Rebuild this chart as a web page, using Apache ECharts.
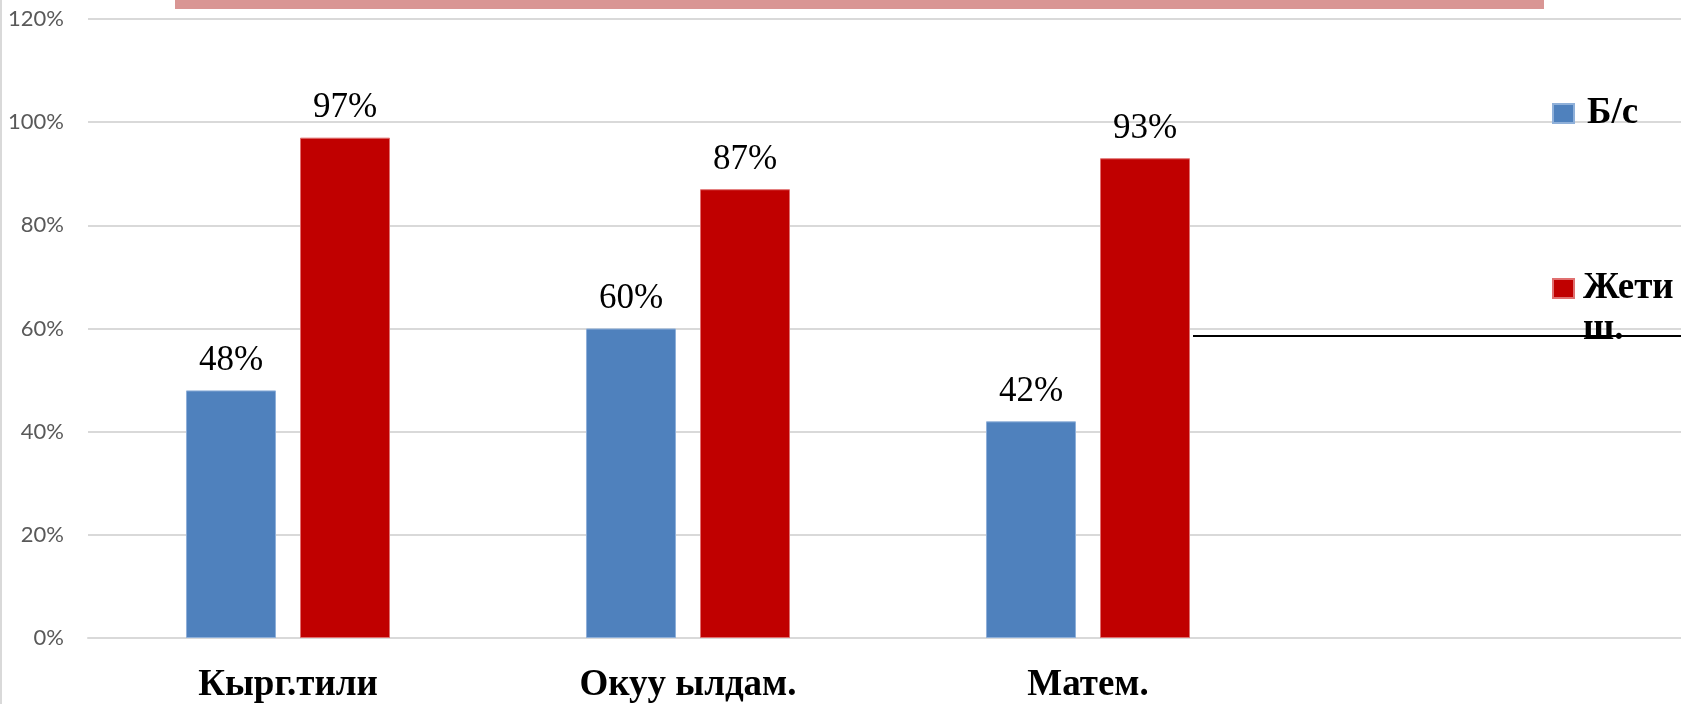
<!DOCTYPE html>
<html>
<head>
<meta charset="utf-8">
<script src="https://cdn.jsdelivr.net/npm/echarts@6/dist/echarts.min.js"></script>
<style>
  html, body { margin: 0; padding: 0; background: #ffffff; }
  #chart { width: 1681px; height: 704px; }
</style>
</head>
<body>
<div id="chart"></div>
<script>
// Subjects on the category axis (the last slot is an empty column)
const categories = ['Кырг.тили', 'Окуу ылдам.', 'Матем.', ''];
// Series names
const seriesNames = ['Б/с', 'Жети ш.'];
// Percent values per subject
const bsValues = [48, 60, 42, null];
const zhetValues = [97, 87, 93, null];
// Value axis range (percent)
const yMin = 0, yMax = 120, yStep = 20;

const serif = '"Liberation Serif", "Times New Roman", serif';
const chart = echarts.init(document.getElementById('chart'), null, { renderer: 'canvas' });

const labelCfg = {
  show: true,
  position: 'top',
  distance: 12,
  fontFamily: serif,
  fontSize: 35,
  color: '#000',
  formatter: p => p.value + '%'
};

const legendText = {
  fontFamily: serif, fontWeight: 'bold', fontSize: 37, color: '#000', lineHeight: 41
};

chart.setOption({
  animation: false,
  backgroundColor: '#ffffff',
  // the plot area runs slightly past the right edge of the canvas
  grid: { left: 88, width: 1600, top: 19, bottom: 66, containLabel: false, outerBoundsMode: 'none' },
  xAxis: {
    type: 'category',
    data: categories,
    axisLine: { show: true, lineStyle: { color: '#d9d9d9', width: 2 } },
    axisTick: { show: false },
    axisLabel: {
      fontFamily: serif, fontWeight: 'bold', fontSize: 37, color: '#000', margin: 29
    },
    splitLine: { show: false }
  },
  yAxis: {
    type: 'value',
    min: yMin, max: yMax, interval: yStep,
    axisLine: { show: false },
    axisTick: { show: false },
    axisLabel: {
      formatter: '{value}%', fontFamily: 'Lato, "Open Sans", sans-serif',
      fontSize: 22, color: '#595959', margin: 24
    },
    splitLine: { lineStyle: { color: '#d9d9d9', width: 2 } }
  },
  legend: [
    {
      data: [seriesNames[0]],
      orient: 'vertical', left: 1552, top: 93, padding: 0,
      itemWidth: 21, itemHeight: 19, icon: 'rect',
      selectedMode: false,
      textStyle: Object.assign({ padding: [0, 0, 0, 8] }, legendText)
    },
    {
      data: [seriesNames[1]],
      orient: 'vertical', left: 1552, top: 227, padding: 0,
      itemWidth: 21, itemHeight: 19, icon: 'rect',
      selectedMode: false,
      // wrap the name onto two lines, first line level with the swatch
      formatter: name => '\n' + name.replace(' ', '\n'),
      textStyle: Object.assign({ padding: [0, 0, 0, 4] }, legendText)
    }
  ],
  series: [
    {
      name: seriesNames[0], type: 'bar', data: bsValues,
      barWidth: 90, barGap: '26.7%',
      itemStyle: { color: '#4f81bd', borderColor: '#8fb0d9', borderWidth: 1 },
      label: labelCfg
    },
    {
      name: seriesNames[1], type: 'bar', data: zhetValues,
      barWidth: 90, barGap: '26.7%',
      itemStyle: { color: '#c00000', borderColor: '#e07070', borderWidth: 1 },
      label: labelCfg
    }
  ],
  graphic: [
    // frame edge on the left
    { type: 'rect', shape: { x: 0, y: 0, width: 2, height: 704 },
      style: { fill: '#d9d9d9' }, silent: true },
    // pink band along the top edge
    { type: 'rect', shape: { x: 175, y: 0, width: 1369, height: 9 },
      style: { fill: '#d99694' }, silent: true },
    // black rule across the legend
    { type: 'line', shape: { x1: 1193, y1: 336, x2: 1681, y2: 336 },
      style: { stroke: '#000', lineWidth: 2 }, z: 100, silent: true }
  ]
});
</script>
</body>
</html>
